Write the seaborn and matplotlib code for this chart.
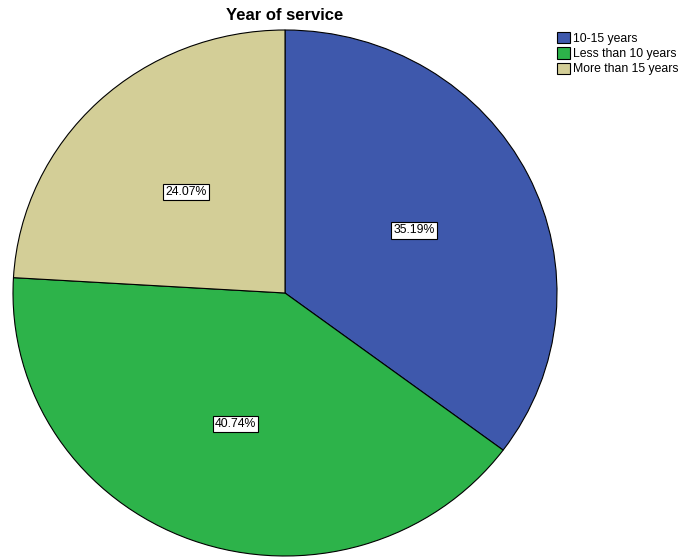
import matplotlib
matplotlib.use("Agg")
import matplotlib.pyplot as plt
import seaborn as sns

categories = ["10-15 years", "Less than 10 years", "More than 15 years"]
percentages = [35.19, 40.74, 24.07]
colors = ["#3E58AC", "#2DB34A", "#D3CE97"]

sns.set_theme(style="white")
plt.rcParams["font.family"] = ["Liberation Sans", "DejaVu Sans"]
plt.rcParams["text.color"] = "black"

fig = plt.figure(figsize=(6.86, 5.58), dpi=100)
W, H = 686, 558
cx, cy, rx, ry = 285, 293, 272, 263
ax = fig.add_axes([(cx - rx) / W, 1 - (cy + ry) / H, 2 * rx / W, 2 * ry / H])

wedges, texts, autotexts = ax.pie(
    percentages,
    colors=colors,
    startangle=90,
    counterclock=False,
    autopct=lambda p: f"{p:.2f}%",
    pctdistance=0.53,
    wedgeprops=dict(edgecolor="black", linewidth=0.8),
    textprops=dict(fontsize=8.8, color="black"),
)
for t in autotexts:
    t.set_bbox(dict(facecolor="white", edgecolor="black", linewidth=0.8, pad=1.5))

ax.set_aspect("auto")
ax.set_xlim(-1, 1)
ax.set_ylim(-1, 1)
ax.axis("off")

fig.text(cx / W, 1 - 15 / H, "Year of service", ha="center", va="center",
         fontsize=12, fontweight="bold", color="black")

leg = fig.legend(wedges, categories, loc="upper left",
                 bbox_to_anchor=(557 / W, 1 - 32 / H), frameon=False,
                 fontsize=8.8, handlelength=1.05, handleheight=1.05,
                 handletextpad=0.25, labelspacing=0.2, borderpad=0,
                 borderaxespad=0)
for txt in leg.get_texts():
    txt.set_color("black")

fig.savefig("out.png", dpi=100)
